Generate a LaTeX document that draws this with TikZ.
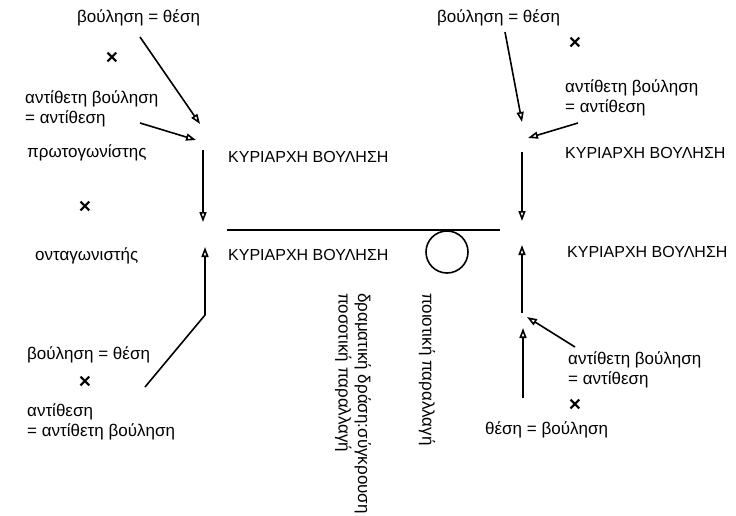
\documentclass[tikz,border=0pt]{standalone}
\usepackage{fontspec}
\setmainfont{Liberation Sans}
\usetikzlibrary{arrows.meta}

\tikzset{
    lbl/.style={inner sep=0pt, font=\fontsize{17}{19.5}\selectfont},
    caps/.style={inner sep=0pt, font=\fontsize{16}{19}\selectfont},
    arr/.style={line width=1.6pt, -{Triangle[open,length=10pt,width=7pt]}},
    cross/.style={inner sep=0pt, font=\fontsize{21}{21}\selectfont\bfseries}
}

\begin{document}
\begin{tikzpicture}[x=1pt, y=-1pt]
        \useasboundingbox (0, 0) rectangle (736, 515);

        % left side
        \node[lbl, anchor=west] (wishL) at (77, 18) {βούληση = θέση};
        \node[cross] (crossL1) at (112, 58) {×};
        \node[lbl, anchor=west, align=left] (oppL) at (25, 109) {αντίθετη βούληση\\= αντίθεση};
        \node[lbl, anchor=west] (prot) at (27, 153) {πρωτογωνίστης};
        \node[cross] (crossL2) at (85, 207) {×};
        \node[lbl, anchor=west] (ant) at (35, 256) {ονταγωνιστής};
        \node[lbl, anchor=west] (wishL2) at (27, 355) {βούληση = θέση};
        \node[cross] (crossL3) at (85, 382) {×};
        \node[lbl, anchor=west, align=left] (oppL2) at (27, 422) {αντίθεση\\= αντίθετη βούληση};

        % middle
        \node[caps, anchor=west] (domA) at (228, 157) {ΚΥΡΙΑΡΧΗ ΒΟΥΛΗΣΗ};
        \node[caps, anchor=west] (domB) at (228, 255) {ΚΥΡΙΑΡΧΗ ΒΟΥΛΗΣΗ};
        \coordinate (barL) at (227, 230);
        \coordinate (barR) at (500, 230);
        \draw[line width=1.6pt] (barL) -- (barR);
        \node[draw, circle, line width=1.6pt, minimum size=42pt, inner sep=0pt] (ring) at (447, 252) {};
        \node[lbl, rotate=-90, anchor=west] (qual) at (427, 293) {ποιοτική παραλλαγή};
        \node[lbl, rotate=-90, anchor=west, align=left] (drama) at (353, 293) {δραματική δράση:σύγκρουση\\ποσοτική παραλλαγή};

        % right side
        \node[lbl, anchor=west] (wishR) at (437, 18) {βούληση = θέση};
        \node[cross] (crossR1) at (575, 43) {×};
        \node[lbl, anchor=west, align=left] (oppR) at (565, 98) {αντίθετη βούληση\\= αντίθεση};
        \node[caps, anchor=west] (domC) at (565, 153) {ΚΥΡΙΑΡΧΗ ΒΟΥΛΗΣΗ};
        \node[caps, anchor=west] (domD) at (567, 252) {ΚΥΡΙΑΡΧΗ ΒΟΥΛΗΣΗ};
        \node[lbl, anchor=west, align=left] (oppR2) at (568, 370) {αντίθετη βούληση\\= αντίθεση};
        \node[cross] (crossR2) at (575, 405) {×};
        \node[lbl, anchor=west] (posR) at (485, 430) {θέση = βούληση};

        % arrow ends
        \coordinate (a1s) at (140, 37);   \coordinate (a1e) at (200, 124);
        \coordinate (a2s) at (140, 123);  \coordinate (a2e) at (196, 140);
        \coordinate (a3s) at (203, 150);  \coordinate (a3e) at (203, 222);
        \coordinate (a4s) at (145, 387);  \coordinate (a4m) at (205, 315);
        \coordinate (a4e) at (205, 247);
        \coordinate (a5s) at (505, 32);   \coordinate (a5e) at (522, 122);
        \coordinate (a6s) at (578, 123);  \coordinate (a6e) at (528, 138);
        \coordinate (a7s) at (522, 152);  \coordinate (a7e) at (522, 221);
        \coordinate (a8s) at (522, 313);  \coordinate (a8e) at (522, 245);
        \coordinate (a9s) at (575, 347);  \coordinate (a9e) at (527, 317);
        \coordinate (a10s) at (523, 398); \coordinate (a10e) at (523, 328);

        \draw[arr] (a1s) -- (a1e);
        \draw[arr] (a2s) -- (a2e);
        \draw[arr] (a3s) -- (a3e);
        \draw[arr] (a4s) -- (a4m) -- (a4e);
        \draw[arr] (a5s) -- (a5e);
        \draw[arr] (a6s) -- (a6e);
        \draw[arr] (a7s) -- (a7e);
        \draw[arr] (a8s) -- (a8e);
        \draw[arr] (a9s) -- (a9e);
        \draw[arr] (a10s) -- (a10e);
\end{tikzpicture}
\end{document}
